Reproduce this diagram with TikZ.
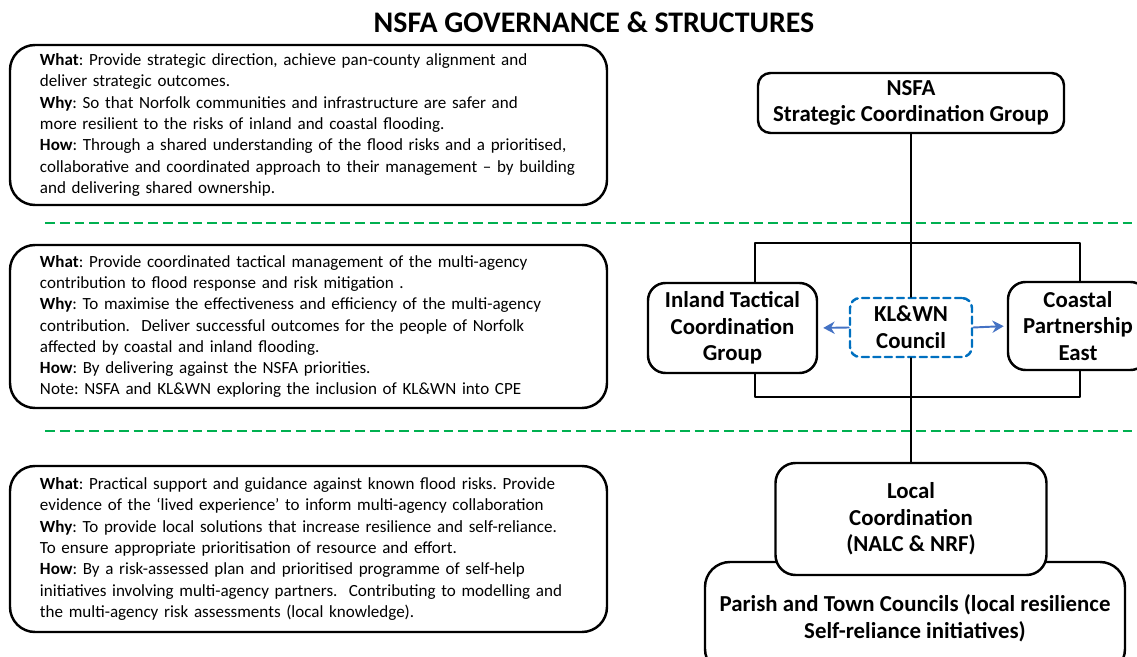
\documentclass[tikz,border=0pt]{standalone}
\usepackage{fontspec}
\setmainfont{Carlito}
\usetikzlibrary{arrows.meta}

\definecolor{tiergreen}{HTML}{00B050}
\definecolor{councilblue}{HTML}{0070C0}
\definecolor{linkblue}{HTML}{4472C4}

\begin{document}
\frenchspacing
\begin{tikzpicture}[>={Stealth[length=6.5pt, width=7pt]}, line join=round, line cap=round,
	infobox/.style={draw, line width=1.4pt, rounded corners=0.5cm, fill=white,
		minimum width=11.94cm, text width=10.74cm, inner xsep=0.6cm, align=left,
		font=\fontsize{9.7}{12.1}\selectfont},
	orgbox/.style={draw, line width=1.4pt, rounded corners=0.35cm, fill=white,
		align=center, font=\fontsize{13}{15.2}\selectfont\bfseries},
	tierline/.style={tiergreen, line width=1.7pt, line cap=butt, dash pattern=on 5.6pt off 2.8pt},
	spine/.style={line width=1.4pt}]
	\useasboundingbox (0, 0) rectangle (22.74, -13.14);
	\clip (0, 0) rectangle (22.74, -13.14);

	\node (title) at (11.88, -0.45) {\fontsize{17}{19}\selectfont\bfseries NSFA GOVERNANCE \& STRUCTURES};

	\node[infobox, minimum height=3.2cm] (strategic) at (6.17, -2.5) {%
		\textbf{What}: Provide strategic direction, achieve pan-county alignment and\\
		deliver strategic outcomes.\\
		\textbf{Why}: So that Norfolk communities and infrastructure are safer and\\
		more resilient to the risks of inland and coastal flooding.\\
		\textbf{How}: Through a shared understanding of the flood risks and a prioritised,\\
		collaborative and coordinated approach to their management -- by building\\
		and delivering shared ownership.};
	\node[infobox, minimum height=3.26cm] (tactical) at (6.17, -6.53) {%
		\textbf{What}: Provide coordinated tactical management of the multi-agency\\
		contribution to flood response and risk mitigation .\\
		\textbf{Why}: To maximise the effectiveness and efficiency of the multi-agency\\
		contribution.\ \ Deliver successful outcomes for the people of Norfolk\\
		affected by coastal and inland flooding.\\
		\textbf{How}: By delivering against the NSFA priorities.\\
		Note: NSFA and KL\&WN exploring the inclusion of KL\&WN into CPE};
	\node[infobox, minimum height=3.32cm] (local info) at (6.17, -10.98) {%
		\textbf{What}: Practical support and guidance against known flood risks. Provide\\
		evidence of the ‘lived experience’ to inform multi-agency collaboration\\
		\textbf{Why}: To provide local solutions that increase resilience and self-reliance.\\
		To ensure appropriate prioritisation of resource and effort.\\
		\textbf{How}: By a risk-assessed plan and prioritised programme of self-help\\
		initiatives involving multi-agency partners.\ \ Contributing to modelling and\\
		the multi-agency risk assessments (local knowledge).};

	\foreach \y in {-4.46, -8.62} \draw[tierline] (0.9, \y) -- (22.8, \y);

	\node[orgbox, rounded corners=0.25cm, minimum width=6.12cm, minimum height=1.2cm] (nsfa) at (18.22, -2.06) {NSFA\\Strategic Coordination Group};
	\node[orgbox, minimum width=3.38cm, minimum height=1.8cm] (itcg) at (14.65, -6.56) {Inland Tactical\\Coordination\\Group};
	\node[orgbox, minimum width=2.8cm, minimum height=1.76cm] (cpe) at (21.56, -6.52) {Coastal\\Partnership\\East};
	\node[orgbox, draw=councilblue, dash pattern=on 4pt off 2.6pt, rounded corners=0.2cm,
		minimum width=2.44cm, minimum height=1.18cm] (klwn) at (18.22, -6.55) {KL\&WN\\Council};
	\node[orgbox, rounded corners=0.5cm, minimum width=8.4cm, minimum height=2.24cm] (parish) at (18.3, -12.36) {Parish and Town Councils (local resilience\\Self-reliance initiatives)};
	\node[orgbox, rounded corners=0.4cm, minimum width=5.42cm, minimum height=2.24cm] (local) at (18.22, -10.38) {Local\\Coordination\\(NALC \& NRF)};

	\coordinate (tl) at (15.1, -4.86);
	\coordinate (tr) at (21.6, -4.86);
	\coordinate (bl) at (15.1, -7.94);
	\coordinate (br) at (21.6, -7.94);
	\draw[spine] (tl |- itcg.north) -- (tl) -- (tr) -- (tr |- cpe.north);
	\draw[spine] (bl |- itcg.south) -- (bl) -- (br) -- (br |- cpe.south);
	\draw[spine] (nsfa.south) -- (klwn.north);
	\draw[spine] (klwn.south) -- (local.north);

	\draw[->, linkblue, line width=1.1pt, shorten >=0.1cm] (klwn.west) -- (itcg.east);
	\draw[->, linkblue, line width=1.1pt, shorten >=0.06cm] (klwn.east) -- (cpe.west);
\end{tikzpicture}
\end{document}
